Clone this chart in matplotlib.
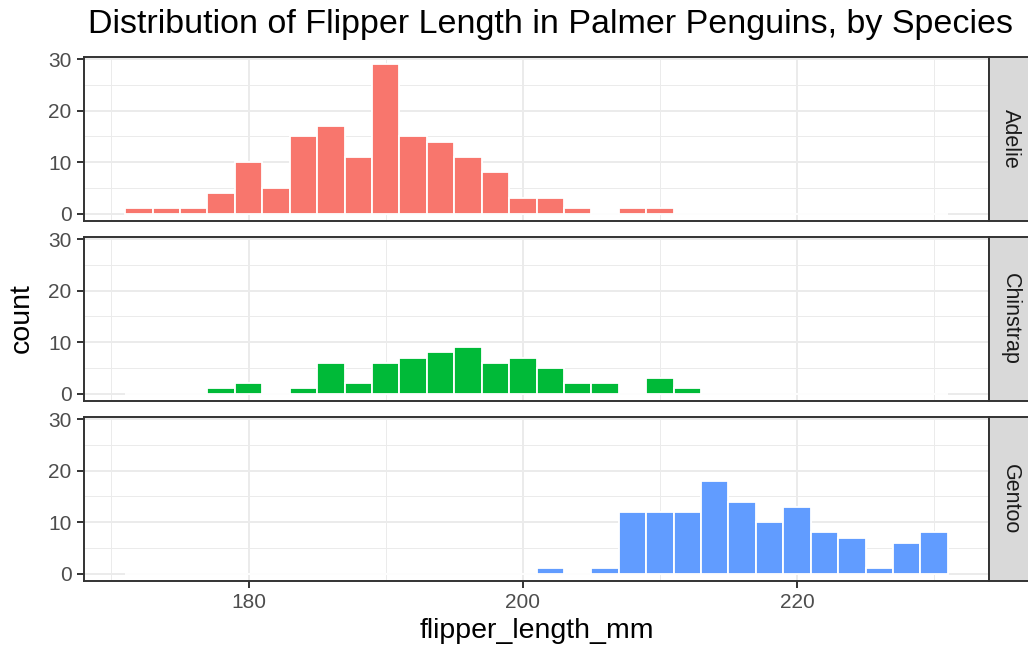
import numpy as np
import matplotlib.pyplot as plt
from matplotlib.ticker import MultipleLocator

plt.rcParams['font.family'] = ['Liberation Sans', 'DejaVu Sans']

# Histogram of flipper length, 30 bins of width 2 mm from 171 to 231
species = ['Adelie', 'Chinstrap', 'Gentoo']
colors = ['#F8766D', '#00BA38', '#619CFF']
bin_edges = np.arange(171, 233, 2)

adelie_counts = [1, 1, 1, 4, 10, 5, 15, 17, 11, 29, 15, 14, 11, 8, 3,
                 3, 1, 0, 1, 1, 0, 0, 0, 0, 0, 0, 0, 0, 0, 0]
chinstrap_counts = [0, 0, 0, 1, 2, 0, 1, 6, 2, 6, 7, 8, 9, 6, 7,
                    5, 2, 2, 0, 3, 1, 0, 0, 0, 0, 0, 0, 0, 0, 0]
gentoo_counts = [0, 0, 0, 0, 0, 0, 0, 0, 0, 0, 0, 0, 0, 0, 0,
                 1, 0, 1, 12, 12, 12, 18, 14, 10, 13, 8, 7, 1, 6, 8]
all_counts = [adelie_counts, chinstrap_counts, gentoo_counts]

W, H = 1028, 652
fig = plt.figure(figsize=(W / 100, H / 100), dpi=100)

# panel geometry in pixels
px_left, px_right = 84, 989
panel_tops = [57, 237, 417]
panel_h = 164
strip_w = 42

grid_col = '#EBEBEB'
border_col = '#333333'

lo, hi = bin_edges[0], bin_edges[-1]
pad = (hi - lo) * 0.05
ymax = max(max(c) for c in all_counts)

axes = []
for i, (name, col, counts) in enumerate(zip(species, colors, all_counts)):
    top = panel_tops[i]
    ax = fig.add_axes([px_left / W, 1 - (top + panel_h) / H,
                       (px_right - px_left) / W, panel_h / H])
    ax.set_axisbelow(True)
    centers = (bin_edges[:-1] + bin_edges[1:]) / 2
    ax.bar(centers, counts, width=2, color=col, edgecolor='white',
           linewidth=1.3, zorder=2)
    ax.set_xlim(lo - pad, hi + pad)
    ax.set_ylim(-ymax * 0.05, ymax * 1.05)
    ax.xaxis.set_major_locator(MultipleLocator(20))
    ax.xaxis.set_minor_locator(MultipleLocator(10))
    ax.yaxis.set_major_locator(MultipleLocator(10))
    ax.yaxis.set_minor_locator(MultipleLocator(5))
    ax.grid(which='major', color=grid_col, linewidth=1.4, zorder=0)
    ax.grid(which='minor', color=grid_col, linewidth=0.7, zorder=0)
    for sp in ax.spines.values():
        sp.set_color(border_col)
        sp.set_linewidth(1.4)
    ax.tick_params(which='major', length=5, width=1.4, color=border_col,
                   labelcolor='#4D4D4D', labelsize=15, pad=4)
    ax.tick_params(which='minor', length=0)
    if i < 2:
        ax.tick_params(axis='x', which='both', bottom=False, labelbottom=False)

    # facet strip on the right
    sax = fig.add_axes([px_right / W, 1 - (top + panel_h) / H,
                        strip_w / W, panel_h / H])
    sax.set_facecolor('#D9D9D9')
    sax.set_xticks([])
    sax.set_yticks([])
    for sp in sax.spines.values():
        sp.set_color(border_col)
        sp.set_linewidth(1.4)
    sax.text(0.5, 0.5, name, rotation=-90, ha='center', va='center',
             fontsize=15.5, color='#1A1A1A', transform=sax.transAxes)
    axes.append(ax)

axes[-1].set_xlabel('flipper_length_mm', fontsize=20.5, labelpad=4)
fig.text(22 / W, 1 - 318 / H, 'count', rotation=90, ha='center', va='center',
         fontsize=20.5)
fig.text(550 / W, 1 - 24 / H,
         'Distribution of Flipper Length in Palmer Penguins, by Species',
         ha='center', va='center', fontsize=24.5)

fig.savefig('out.png', dpi=100)
